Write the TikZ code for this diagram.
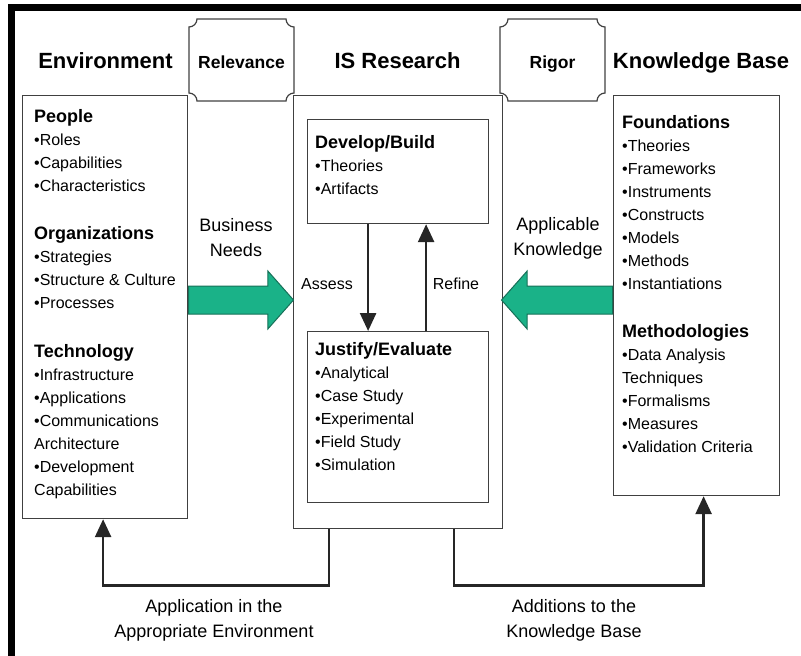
\documentclass[tikz,border=0pt]{standalone}
\usepackage{fontspec}
\setmainfont{Liberation Sans}
\usetikzlibrary{arrows.meta, shapes.arrows, positioning, calc}

\definecolor{arrowgreen}{RGB}{26,178,136}
\definecolor{arrowedge}{RGB}{22,112,88}

\tikzset{
  panel/.style={draw=black!75, line width=1.2pt},
  colhead/.style={font=\fontsize{22}{26}\selectfont\bfseries, anchor=base, inner sep=0pt},
  tagtext/.style={font=\fontsize{17.5}{21}\selectfont\bfseries, anchor=base, inner sep=0pt},
  sechead/.style={font=\fontsize{18}{22}\selectfont\bfseries, anchor=base west, inner sep=0pt},
  listitem/.style={font=\fontsize{16}{20}\selectfont, anchor=base west, inner sep=0pt},
  flowtext/.style={font=\fontsize{18}{25}\selectfont, align=center, inner sep=0pt},
  looptext/.style={font=\fontsize{16}{20}\selectfont, anchor=base, inner sep=0pt},
  flow/.style={line width=2.6pt, draw=black!85, -{Triangle[width=16pt,length=18pt]}},
  bigarrow/.style={single arrow, draw=arrowedge, fill=arrowgreen, line width=1pt,
    inner sep=0pt, inner ysep=13.5pt, single arrow head extend=15pt, single arrow tip angle=97}
}

\begin{document}
\begin{tikzpicture}[x=1pt, y=-1pt]
\useasboundingbox (0,0) rectangle (801,656);

% Frame
\draw[line width=7pt] (11,656) -- (11,7) -- (801,7);

% Column titles
\node[colhead] (envtitle) at (105.5,68) {Environment};
\node[colhead] (isrtitle) at (397.5,68) {IS Research};
\node[colhead] (kbtitle) at (701,68) {Knowledge Base};

% Relevance and Rigor plaques
\foreach \x/\word/\nm in {189/Relevance/rel, 500/Rigor/rig} {
    \draw[panel] ({\x+8},19) -- ({\x+97},19) .. controls ({\x+97},23.4) and ({\x+100.6},27) .. ({\x+105},27)
        -- ({\x+105},93) .. controls ({\x+100.6},93) and ({\x+97},96.6) .. ({\x+97},101)
        -- ({\x+8},101) .. controls ({\x+8},96.6) and ({\x+4.4},93) .. (\x,93)
        -- (\x,27) .. controls ({\x+4.4},27) and ({\x+8},23.4) .. ({\x+8},19) -- cycle;
    \node[tagtext] (\nm) at ({\x+52.5},68) {\word};
}

% Boxes
\node[panel, minimum width=165pt, minimum height=423pt, anchor=north west] (env) at (22,95) {};
\node[panel, minimum width=209pt, minimum height=433pt, anchor=north west] (isr) at (293,95) {};
\node[panel, minimum width=181pt, minimum height=104pt, anchor=north west] (dev) at (307,119) {};
\node[panel, minimum width=181pt, minimum height=171pt, anchor=north west] (jus) at (307,331) {};
\node[panel, minimum width=166pt, minimum height=400pt, anchor=north west] (kb) at (613,95) {};

% Environment content
\node[sechead] (ppl) at (34,122) {People};
\foreach \txt [count=\i] in {•Roles, •Capabilities, •Characteristics}
    \node[listitem] (ppl\i) at (34,{122+23*\i}) {\txt};
\node[sechead] (org) at (34,239) {Organizations};
\foreach \txt [count=\i] in {•Strategies, •Structure \& Culture, •Processes}
    \node[listitem] (org\i) at (34,{239+23*\i}) {\txt};
\node[sechead] (tec) at (34,357) {Technology};
\foreach \txt [count=\i] in {•Infrastructure, •Applications, •Communications, Architecture, •Development, Capabilities}
    \node[listitem] (tec\i) at (34,{357+23*\i}) {\txt};

% IS Research content
\node[sechead] (build) at (315,148) {Develop/Build};
\foreach \txt [count=\i] in {•Theories, •Artifacts}
    \node[listitem] (build\i) at (315,{148+23*\i}) {\txt};
\node[sechead] (eval) at (315,355) {Justify/Evaluate};
\foreach \txt [count=\i] in {•Analytical, •Case Study, •Experimental, •Field Study, •Simulation}
    \node[listitem] (eval\i) at (315,{355+23*\i}) {\txt};

% Knowledge base content
\node[sechead] (fnd) at (622,128) {Foundations};
\foreach \txt [count=\i] in {•Theories, •Frameworks, •Instruments, •Constructs, •Models, •Methods, •Instantiations}
    \node[listitem] (fnd\i) at (622,{128+23*\i}) {\txt};
\node[sechead] (meth) at (622,337) {Methodologies};
\foreach \txt [count=\i] in {•Data Analysis, Techniques, •Formalisms, •Measures, •Validation Criteria}
    \node[listitem] (meth\i) at (622,{337+23*\i}) {\txt};

% Big arrows
\node[bigarrow, minimum height=105pt, anchor=tail] (needs) at (188,300) {};
\node[bigarrow, minimum height=111pt, shape border rotate=180, anchor=tail] (know) at (613,300) {};
\node[flowtext] (needstext) at (236,238) {Business\\Needs};
\node[flowtext] (knowtext) at (558,238) {Applicable\\Knowledge};

% Assess / refine loop
\draw[flow] ([xshift=-30pt]dev.south) -- ([xshift=-30pt]jus.north);
\draw[flow] ([xshift=28pt]jus.north) -- ([xshift=28pt]dev.south);
\node[looptext] (assess) at (327,289) {Assess};
\node[looptext] (refine) at (456,289) {Refine};

% Feedback to environment and knowledge base
\draw[flow] ([xshift=-69pt]isr.south) -- ++(0,56) -| ([xshift=-2pt]env.south);
\draw[flow] ([xshift=56pt]isr.south) -- ++(0,56) -| ([xshift=7pt]kb.south);
\node[flowtext] (apptext) at (214,620) {Application in the\\Appropriate Environment};
\node[flowtext] (addtext) at (574,620) {Additions to the\\Knowledge Base};
\end{tikzpicture}
\end{document}
